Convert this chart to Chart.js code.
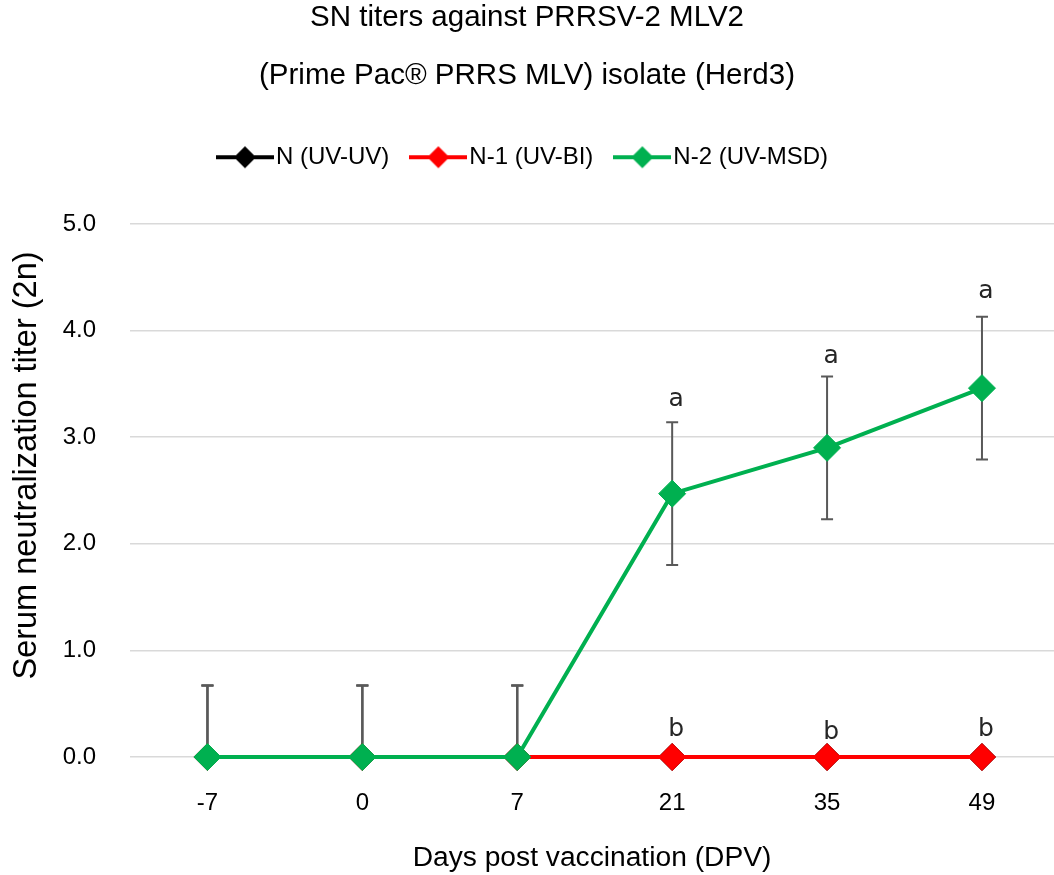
<!DOCTYPE html>
<html><head><meta charset="utf-8">
<script src="https://cdn.jsdelivr.net/npm/chart.js@4.4.1/dist/chart.umd.min.js"></script>
<style>html,body{margin:0;padding:0;background:#fff;overflow:hidden}</style>
</head><body>
<canvas id="c" width="1054" height="875" style="display:block;width:1054px;height:875px"></canvas>
<script>
const categories = ['-7', '0', '7', '21', '35', '49'];
const seriesNames = ['N (UV-UV)', 'N-1 (UV-BI)', 'N-2 (UV-MSD)'];
const seriesColors = ['#000000', '#FF0000', '#00B050'];
const meanN  = [0, 0, 0, 0, 0, 0];
const meanN1 = [0, 0, 0, 0, 0, 0];
const meanN2 = [0, 0, 0, 2.47, 2.90, 3.46];
const sdN  = [0.67, 0.67, 0.67, 0, 0, 0];
const sdN1 = [0.67, 0.67, 0.67, 0, 0, 0];
const sdN2 = [0.67, 0.67, 0.67, 0.67, 0.67, 0.67];
const yTicks = [0, 1, 2, 3, 4, 5];
const letterText  = ['a', 'a', 'a', 'b', 'b', 'b'];
const letterIndex = [3, 4, 5, 3, 4, 5];
const letterY     = [3.29, 3.70, 4.31, 0.20, 0.17, 0.20];
const yTitle = 'Serum neutralization titer (2n)';

const means = [meanN, meanN1, meanN2];
const sds = [sdN, sdN1, sdN2];

Chart.defaults.font.family = '"Liberation Sans", Arial, sans-serif';
Chart.defaults.color = '#000000';

function legendImg(color) {
  const c = document.createElement('canvas');
  c.width = 58; c.height = 24;
  const g = c.getContext('2d');
  g.strokeStyle = color; g.lineWidth = 4;
  g.beginPath(); g.moveTo(0, 12); g.lineTo(58, 12); g.stroke();
  g.fillStyle = color;
  g.beginPath(); g.moveTo(29, 1); g.lineTo(40, 12); g.lineTo(29, 23); g.lineTo(18, 12); g.closePath(); g.fill();
  return c;
}
const legendImgs = seriesColors.map(legendImg);

const errorBarPlugin = {
  id: 'errbars',
  beforeDatasetsDraw(chart) {
    const ctx = chart.ctx, xs = chart.scales.x, ys = chart.scales.y, a = chart.chartArea;
    ctx.save();
    ctx.beginPath(); ctx.rect(a.left, a.top, a.right - a.left, a.bottom - a.top); ctx.clip();
    ctx.strokeStyle = '#595959'; ctx.lineWidth = 2;
    sds.forEach((sd, d) => {
      sd.forEach((e, i) => {
        if (!e) return;
        const x = xs.getPixelForValue(i);
        const y1 = ys.getPixelForValue(means[d][i] + e);
        const y2 = ys.getPixelForValue(means[d][i] - e);
        ctx.beginPath();
        ctx.moveTo(x, y1); ctx.lineTo(x, y2);
        ctx.moveTo(x - 6, y1); ctx.lineTo(x + 6, y1);
        ctx.moveTo(x - 6, y2); ctx.lineTo(x + 6, y2);
        ctx.stroke();
      });
    });
    ctx.restore();
  }
};

const letterPlugin = {
  id: 'letters',
  afterDatasetsDraw(chart) {
    const ctx = chart.ctx, xs = chart.scales.x, ys = chart.scales.y;
    ctx.save();
    ctx.font = '25px "DejaVu Sans", sans-serif';
    ctx.fillStyle = '#262626';
    ctx.textAlign = 'center';
    ctx.textBaseline = 'alphabetic';
    letterText.forEach((t, k) => {
      ctx.fillText(t, xs.getPixelForValue(letterIndex[k]) + 4, ys.getPixelForValue(letterY[k]));
    });
    ctx.restore();
  }
};

const yTitlePlugin = {
  id: 'ytitle',
  afterDraw(chart) {
    const ctx = chart.ctx, a = chart.chartArea;
    ctx.save();
    ctx.font = '32.5px "Liberation Sans", Arial, sans-serif';
    ctx.fillStyle = '#000000';
    ctx.textAlign = 'center';
    ctx.textBaseline = 'middle';
    ctx.translate(a.left - 103, (a.top + a.bottom) / 2 - 25);
    ctx.rotate(-Math.PI / 2);
    ctx.fillText(yTitle, 0, 0);
    ctx.restore();
  }
};

const datasets = means.map((m, d) => ({
  label: seriesNames[d],
  data: m.map((v, i) => ({ x: i, y: v })),
  borderColor: seriesColors[d],
  backgroundColor: seriesColors[d],
  borderWidth: 4,
  pointStyle: 'rectRot',
  pointRadius: 13.5,
  pointHoverRadius: 13.5,
  pointBorderWidth: 1,
  pointBorderColor: seriesColors[d],
  pointBackgroundColor: seriesColors[d],
  tension: 0,
  clip: false,
  order: 3 - d,
  xAxisID: 'x',
  yAxisID: 'y'
}));

function noSidePad(s) { s.paddingLeft = 0; s.paddingRight = 0; }

new Chart(document.getElementById('c'), {
  type: 'line',
  data: { datasets },
  plugins: [errorBarPlugin, letterPlugin, yTitlePlugin],
  options: {
    responsive: false,
    devicePixelRatio: 1,
    animation: false,
    events: [],
    layout: { autoPadding: false, padding: { left: 0, right: 0, top: 0, bottom: 0 } },
    plugins: {
      tooltip: { enabled: false },
      title: {
        display: true,
        text: 'SN titers against PRRSV-2 MLV2',
        font: { size: 29.5, weight: 'normal', lineHeight: 1.2 },
        color: '#000000',
        padding: { top: 0.3, bottom: 0 }
      },
      subtitle: {
        display: true,
        text: '(Prime Pac® PRRS MLV) isolate (Herd3)',
        font: { size: 29.5, weight: 'normal', lineHeight: 1.2 },
        color: '#000000',
        padding: { top: 22.6, bottom: 21.5 }
      },
      legend: {
        display: true,
        position: 'top',
        labels: {
          usePointStyle: true,
          pointStyleWidth: 38,
          boxHeight: 20,
          padding: 30,
          color: '#000000',
          font: { size: 24 },
          generateLabels(chart) {
            return seriesNames.map((n, i) => ({
              text: n,
              pointStyle: legendImgs[i],
              fillStyle: seriesColors[i],
              strokeStyle: seriesColors[i],
              lineWidth: 0,
              hidden: false,
              datasetIndex: i
            }));
          }
        }
      }
    },
    scales: {
      x: {
        type: 'linear',
        position: 'bottom',
        min: -0.5,
        max: 5.465,
        afterBuildTicks(s) { s.ticks = categories.map((c, i) => ({ value: i })); },
        afterFit(s) { s.height = 118; noSidePad(s); },
        ticks: {
          callback: (v) => categories[v],
          font: { size: 24 },
          color: '#000000',
          padding: 24,
          maxRotation: 0,
          autoSkip: false
        },
        grid: { display: false },
        border: { display: false },
        title: {
          display: true,
          text: 'Days post vaccination (DPV)',
          font: { size: 28.2, lineHeight: 1.2 },
          color: '#000000',
          padding: { top: 0, bottom: 0 }
        }
      },
      gap: {
        type: 'linear',
        position: 'top',
        display: true,
        afterFit(s) { s.height = 44.75; noSidePad(s); },
        ticks: { display: false },
        grid: { display: false },
        border: { display: false }
      },
      y: {
        type: 'linear',
        position: 'left',
        min: 0,
        max: 5,
        afterBuildTicks(s) { s.ticks = yTicks.map(v => ({ value: v })); },
        afterFit(s) { s.width = 130; },
        ticks: {
          callback: (v) => Number(v).toFixed(1),
          font: { size: 24 },
          color: '#000000',
          padding: 34
        },
        grid: { color: '#d9d9d9', lineWidth: 1.5, drawTicks: false },
        border: { display: false },
        title: { display: false }
      }
    }
  }
});
</script>
</body></html>
